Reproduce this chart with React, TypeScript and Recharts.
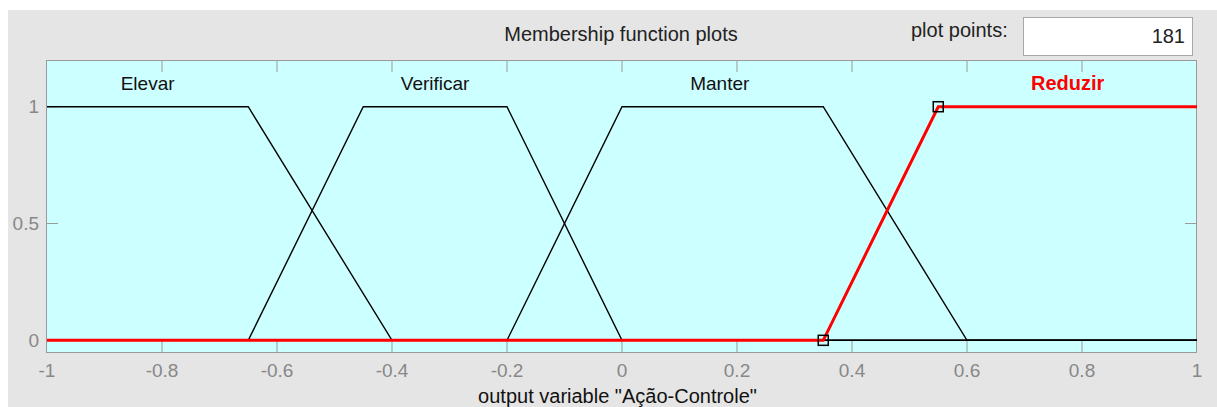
import { ComposedChart, Line, XAxis, YAxis, ReferenceDot } from "recharts";

const FONT = '"Liberation Sans", Arial, sans-serif';

// Trapezoid breakpoints of each membership function over [-1, 1].
const elevarX = [-1, -0.65, -0.4, 1];
const elevarY = [1, 1, 0, 0];
const verificarX = [-1, -0.65, -0.45, -0.2, 0, 1];
const verificarY = [0, 0, 1, 1, 0, 0];
const manterX = [-1, -0.2, 0, 0.35, 0.6, 1];
const manterY = [0, 0, 1, 1, 0, 0];
const reduzirX = [-1, 0.35, 0.55, 1];
const reduzirY = [0, 0, 1, 1];

const mfNames = ["Elevar", "Verificar", "Manter", "Reduzir"];
const mfLabelX = [-0.825, -0.325, 0.17, 0.775];
const mfLabelY = 1.1;
const selectedMf = "Reduzir";

const xTicks = [-1, -0.8, -0.6, -0.4, -0.2, 0, 0.2, 0.4, 0.6, 0.8, 1];
const yTicks = [0, 0.5, 1];
const plotPoints = 181;

const W = 1217;
const H = 407;
const PLOT_LEFT = 47;
const PLOT_RIGHT = 1196;
const PLOT_TOP = 61;
const PLOT_BOTTOM = 352;
const TICK_LEN = 11;
const AXIS_GRAY = "#999999";
const MARGIN = {
  top: PLOT_TOP - 1,
  left: PLOT_LEFT - 1,
  right: W - PLOT_RIGHT - 1,
  bottom: H - PLOT_BOTTOM - 1,
};

const zip = (xs: number[], ys: number[]) => xs.map((x, i) => ({ x, y: ys[i] }));

const elevar = zip(elevarX, elevarY);
const verificar = zip(verificarX, verificarY);
const manter = zip(manterX, manterY);
const reduzir = zip(reduzirX, reduzirY);

// inward tick marks on all four sides; drawn in the layer under the curves
function XMark(props: any) {
  const { x, payload } = props;
  if (payload.value === -1 || payload.value === 1) return <g />;
  return (
    <g>
      <line x1={x} x2={x} y1={PLOT_BOTTOM} y2={PLOT_BOTTOM - TICK_LEN} stroke={AXIS_GRAY} />
      <line x1={x} x2={x} y1={PLOT_TOP} y2={PLOT_TOP + TICK_LEN} stroke={AXIS_GRAY} />
    </g>
  );
}

function YMark(props: any) {
  const { y } = props;
  return (
    <g>
      <line x1={PLOT_LEFT} x2={PLOT_LEFT + TICK_LEN} y1={y} y2={y} stroke={AXIS_GRAY} />
      <line x1={PLOT_RIGHT} x2={PLOT_RIGHT - TICK_LEN} y1={y} y2={y} stroke={AXIS_GRAY} />
    </g>
  );
}

function XLabel(props: any) {
  const { x, payload } = props;
  return (
    <text x={x} y={PLOT_BOTTOM + 18} textAnchor="middle" dominantBaseline="central" fill="#888" fontSize={19} fontFamily={FONT}>
      {String(payload.value)}
    </text>
  );
}

function YLabel(props: any) {
  const { y, payload } = props;
  return (
    <text x={PLOT_LEFT - 8} y={y} textAnchor="end" dominantBaseline="central" fill="#888" fontSize={19} fontFamily={FONT}>
      {String(payload.value)}
    </text>
  );
}

// hollow square handles on the corners of the selected function
function HandleDot(props: any) {
  const { cx, cy, index } = props;
  if (index !== 1 && index !== 2) return <g key={`d${index}`} />;
  return (
    <rect
      key={`d${index}`}
      x={cx - 5}
      y={cy - 5}
      width={10}
      height={10}
      fill="none"
      stroke="#000"
      strokeWidth={1.5}
    />
  );
}

function MfLabel(name: string) {
  const sel = name === selectedMf;
  return (p: any) => (
    <text
      x={p.cx}
      y={p.cy}
      textAnchor="middle"
      dominantBaseline="central"
      fontFamily={FONT}
      fontSize={sel ? 20 : 19}
      fontWeight={sel ? "bold" : "normal"}
      fill={sel ? "#ff0000" : "#111"}
    >
      {name}
    </text>
  );
}

function Axes({ xTick, yTick }: { xTick: any; yTick: any }) {
  return [
    <XAxis
      key="x"
      dataKey="x"
      type="number"
      domain={[-1, 1]}
      ticks={xTicks}
      interval={0}
      height={1}
      tickSize={0}
      tickMargin={0}
      axisLine={false}
      tickLine={false}
      tick={xTick}
      allowDataOverflow
    />,
    <YAxis
      key="y"
      type="number"
      domain={[-0.05, 1.2]}
      ticks={yTicks}
      interval={0}
      width={1}
      tickSize={0}
      tickMargin={0}
      axisLine={false}
      tickLine={false}
      tick={yTick}
      allowDataOverflow
    />,
  ];
}

export default function App() {
  const text = { position: "absolute" as const, fontFamily: FONT, fontSize: 20, whiteSpace: "nowrap" as const };
  const layer = { position: "absolute" as const, left: 0, top: 0 };
  return (
    <div style={{ position: "absolute", left: 0, top: 0, width: W, height: H, background: "#fff" }}>
      <div style={{ position: "absolute", left: 8, top: 10, width: W - 8, height: H - 10, background: "#e5e5e5" }} />
      <div
        style={{
          position: "absolute",
          left: PLOT_LEFT - 1,
          top: PLOT_TOP - 1,
          width: PLOT_RIGHT - PLOT_LEFT + 2,
          height: PLOT_BOTTOM - PLOT_TOP + 2,
          boxSizing: "border-box",
          border: `1px solid ${AXIS_GRAY}`,
          background: "#ccffff",
        }}
      />
      <div style={{ ...text, left: 0, width: 1242, top: 23, textAlign: "center", color: "#222" }}>
        Membership function plots
      </div>
      <div style={{ ...text, left: 911, top: 19, color: "#222" }}>plot points:</div>
      <div
        style={{
          ...text,
          left: 1023,
          top: 17,
          width: 170,
          height: 39,
          boxSizing: "border-box",
          border: "1px solid #a8a8a8",
          background: "#fff",
          textAlign: "right",
          paddingRight: 7,
          lineHeight: "37px",
          color: "#222",
        }}
      >
        {plotPoints}
      </div>
      <div style={{ ...text, left: 0, width: 1235, top: 385, textAlign: "center", color: "#111" }}>
        output variable "Ação-Controle"
      </div>

      {/* tick marks, under the curves */}
      <div style={layer}>
        <ComposedChart width={W} height={H} margin={MARGIN}>
          {Axes({ xTick: XMark, yTick: YMark })}
        </ComposedChart>
      </div>

      <div style={layer}>
        <ComposedChart width={W} height={H} margin={MARGIN}>
          {Axes({ xTick: XLabel, yTick: YLabel })}
          <Line data={elevar} dataKey="y" type="linear" stroke="#000" strokeWidth={1.4} dot={false} activeDot={false} isAnimationActive={false} />
          <Line data={verificar} dataKey="y" type="linear" stroke="#000" strokeWidth={1.4} dot={false} activeDot={false} isAnimationActive={false} />
          <Line data={manter} dataKey="y" type="linear" stroke="#000" strokeWidth={1.4} dot={false} activeDot={false} isAnimationActive={false} />
          <Line data={reduzir} dataKey="y" type="linear" stroke="#ff0000" strokeWidth={3} dot={HandleDot} activeDot={false} isAnimationActive={false} />
          {mfNames.map((name, i) => (
            <ReferenceDot key={name} x={mfLabelX[i]} y={mfLabelY} r={0} shape={MfLabel(name)} />
          ))}
        </ComposedChart>
      </div>
    </div>
  );
}
